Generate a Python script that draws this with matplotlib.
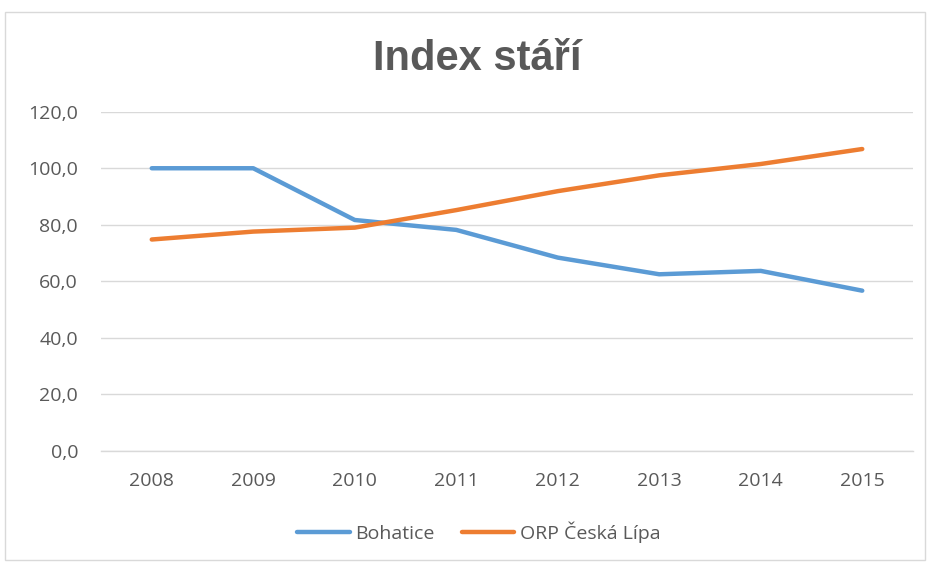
import matplotlib
matplotlib.use("Agg")
import matplotlib.pyplot as plt
from matplotlib.patches import Rectangle

years = ["2008", "2009", "2010", "2011", "2012", "2013", "2014", "2015"]
bohatice = [100.0, 100.0, 81.7, 78.2, 68.4, 62.5, 63.7, 56.7]
orp = [74.8, 77.6, 79.0, 85.2, 91.9, 97.5, 101.5, 106.8]
series_names = ["Bohatice", "ORP Česká Lípa"]
yticks = [0, 20, 40, 60, 80, 100, 120]

plt.rcParams['font.family'] = ['Open Sans', 'DejaVu Sans']

fig = plt.figure(figsize=(9.28, 5.63), dpi=100)
fig.patches.append(Rectangle((5/928, 1 - 560/563), 920/928, (560 - 12)/563,
                             transform=fig.transFigure, fill=False,
                             edgecolor='#D9D9D9', linewidth=1))
ax = fig.add_axes([101/928, 1 - 451/563, (913 - 101)/928, (451 - 111.7)/563])

x = list(range(len(years)))
ax.plot(x, bohatice, color='#5B9BD5', linewidth=3.2, solid_capstyle='round',
        solid_joinstyle='round', label=series_names[0], zorder=3)
ax.plot(x, orp, color='#ED7D31', linewidth=3.2, solid_capstyle='round',
        solid_joinstyle='round', label=series_names[1], zorder=3)

ax.set_xlim(-0.5, len(years) - 0.5)
ax.set_ylim(0, 120)
ax.set_yticks(yticks)
ax.set_yticklabels([f"{v:.1f}".replace('.', ',') for v in yticks])
ax.set_xticks(x)
ax.set_xticklabels(years)
ax.grid(axis='y', color='#D9D9D9', linewidth=1)
ax.set_axisbelow(True)
for s in ['top', 'right', 'left']:
    ax.spines[s].set_visible(False)
ax.spines['bottom'].set_color('#D9D9D9')
ax.spines['bottom'].set_linewidth(1)
ax.tick_params(axis='both', length=0, colors='#595959', labelsize=14)
ax.tick_params(axis='x', pad=15)
ax.tick_params(axis='y', pad=16.5)

fig.text(477/928, 1 - 70/563, "Index stáří", ha='center', va='baseline',
         fontsize=30, fontweight='bold', color='#595959',
         family=['Liberation Sans', 'DejaVu Sans'])

leg = fig.legend(loc='center', bbox_to_anchor=(479/928, 1 - 532/563), ncol=2,
                 frameon=False, fontsize=14, handlelength=2.68,
                 columnspacing=1.4, handletextpad=0.3)
for t in leg.get_texts():
    t.set_color('#595959')

fig.savefig("out.png", dpi=100)
